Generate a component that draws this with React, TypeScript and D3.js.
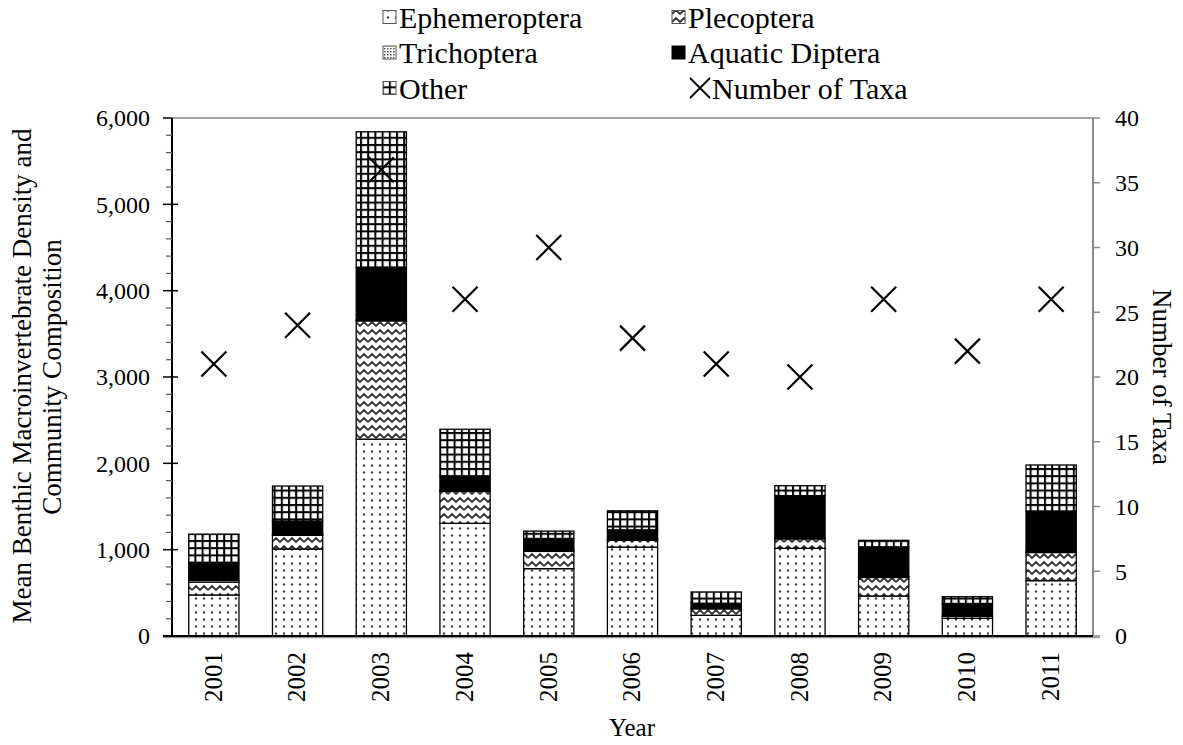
import React from "react";
import * as d3 from "d3";

const years = ["2001","2002","2003","2004","2005","2006","2007","2008","2009","2010","2011"];
const ephemeroptera = [475, 1008, 2280, 1305, 780, 1030, 240, 1016, 463, 205, 641];
const plecoptera = [150, 158, 1370, 370, 200, 80, 75, 110, 215, 22, 326];
const trichoptera = [20, 10, 15, 10, 10, 10, 15, 10, 10, 5, 10];
const aquaticDiptera = [200, 156, 600, 165, 140, 110, 50, 490, 345, 145, 471];
const other = [335, 405, 1575, 545, 85, 220, 130, 115, 75, 78, 533];
const numberOfTaxa = [21, 24, 36, 26, 30, 23, 21, 20, 26, 22, 26];
const leftTicks = [0, 1000, 2000, 3000, 4000, 5000, 6000];
const rightTicks = [0, 5, 10, 15, 20, 25, 30, 35, 40];

const seriesKeys = ["eph", "plec", "trich", "dipt", "other"];
const seriesNames = ["Ephemeroptera", "Plecoptera", "Trichoptera", "Aquatic Diptera", "Other"];
const seriesValues = [ephemeroptera, plecoptera, trichoptera, aquaticDiptera, other];

const W = 1183, H = 745;
const X0 = 172, X1 = 1093, YB = 636, YT = 118;
const FONT = "'Liberation Serif', 'Times New Roman', serif";

export default function App() {
  const x = d3.scaleBand<string>().domain(years).range([X0, X1]).paddingInner(0.4).paddingOuter(0.2);
  const y = d3.scaleLinear().domain([0, 6000]).range([YB, YT]);
  const y2 = d3.scaleLinear().domain([0, 40]).range([YB, YT]);

  const table = years.map((yr, i) => {
    const row: any = { year: yr };
    seriesKeys.forEach((k, j) => (row[k] = seriesValues[j][i]));
    return row;
  });
  const stacked = d3.stack<any>().keys(seriesKeys)(table);
  const minorTicks = d3.range(0, 6001, 200).filter((v) => v % 1000 !== 0);
  const fills: Record<string, string> = {
    eph: "url(#pEph)", plec: "url(#pPlec)", trich: "url(#pTrich)", dipt: "#000", other: "url(#pOther)",
  };

  const legendItems = [
    { k: "eph", name: seriesNames[0], col: 0, row: 0 },
    { k: "plec", name: seriesNames[1], col: 1, row: 0 },
    { k: "trich", name: seriesNames[2], col: 0, row: 1 },
    { k: "dipt", name: seriesNames[3], col: 1, row: 1 },
    { k: "other", name: seriesNames[4], col: 0, row: 2 },
    { k: "taxa", name: "Number of Taxa", col: 1, row: 2 },
  ];
  const legColX = [383, 672];
  const legRowY = [17, 52.5, 88];

  return (
    <svg width={W} height={H} style={{ position: "absolute", left: 0, top: 0, background: "#fff" }} fontFamily={FONT}>
      <defs>
        <pattern id="pEph" width="8" height="7" patternUnits="userSpaceOnUse">
          <rect width="8" height="7" fill="#fff" />
          <circle cx="4" cy="3.5" r="1.2" fill="#444" />
        </pattern>
        <pattern id="pPlec" width="16" height="8" patternUnits="userSpaceOnUse">
          <rect width="16" height="8" fill="#fff" />
          <path d="M0,6 L4,2 L8,6 L12,2 L16,6" fill="none" stroke="#333" strokeWidth="1.8" />
        </pattern>
        <pattern id="pTrich" width="3" height="3" patternUnits="userSpaceOnUse">
          <rect width="3" height="3" fill="#fff" />
          <rect x="0" y="0" width="1.5" height="1.5" fill="#555" />
        </pattern>
        <pattern id="pOther" width="7.2" height="7.2" patternUnits="userSpaceOnUse">
          <rect width="7.2" height="7.2" fill="#fff" />
          <line x1="1" y1="0" x2="1" y2="7.2" stroke="#000" strokeWidth="2" />
          <line x1="0" y1="1" x2="7.2" y2="1" stroke="#000" strokeWidth="2" />
        </pattern>
      </defs>

      {/* frame top and right axis */}
      <line x1={X0} x2={X1} y1={YT} y2={YT} stroke="#888" strokeWidth={1.5} />
      <line x1={X1} x2={X1} y1={YT} y2={YB} stroke="#888" strokeWidth={2} />
      {rightTicks.map((t) => (
        <g key={"rt" + t}>
          <line x1={X1} x2={X1 + 7} y1={y2(t)} y2={y2(t)} stroke="#888" strokeWidth={1.5} />
          <text x={X1 + 22} y={y2(t)} dy="0.35em" fontSize={24} fill="#000">{t}</text>
        </g>
      ))}

      {/* bars */}
      {stacked.map((layer) => (
        <g key={layer.key}>
          {layer.map((d, i) => (
            <rect
              key={i}
              x={x(years[i])}
              width={x.bandwidth()}
              y={y(d[1])}
              height={Math.max(0, y(d[0]) - y(d[1]))}
              fill={fills[layer.key]}
              stroke="#000"
              strokeWidth={1.3}
            />
          ))}
        </g>
      ))}

      {/* taxa markers */}
      {numberOfTaxa.map((v, i) => {
        const cx = (x(years[i]) as number) + x.bandwidth() / 2;
        const cy = y2(v);
        const s = 12.5;
        return (
          <path key={"tx" + i} d={`M${cx - s},${cy - s}L${cx + s},${cy + s}M${cx - s},${cy + s}L${cx + s},${cy - s}`} stroke="#000" strokeWidth={2.2} fill="none" />
        );
      })}

      {/* left axis */}
      <line x1={X0} x2={X0} y1={YT} y2={YB} stroke="#000" strokeWidth={2} />
      {minorTicks.map((t) => (
        <line key={"mt" + t} x1={X0 - 6} x2={X0} y1={y(t)} y2={y(t)} stroke="#555" strokeWidth={1.2} />
      ))}
      {leftTicks.map((t) => (
        <g key={"lt" + t}>
          <line x1={X0 - 9} x2={t === 0 || t === 6000 ? X0 : X0 + 6} y1={y(t)} y2={y(t)} stroke="#000" strokeWidth={1.5} />
          <text x={150} y={y(t)} dy="0.35em" textAnchor="end" fontSize={24}>{d3.format(",")(t)}</text>
        </g>
      ))}

      {/* x axis */}
      <line x1={X0 - 9} x2={X1 + 7} y1={YB + 1.5} y2={YB + 1.5} stroke="#999" strokeWidth={1.5} />
      <line x1={X0 - 9} x2={X1} y1={YB} y2={YB} stroke="#000" strokeWidth={2} />
      {years.map((yr) => {
        const cx = (x(yr) as number) + x.bandwidth() / 2;
        return (
          <text key={"yl" + yr} transform={`translate(${cx - 1},652) rotate(-90)`} textAnchor="end" dy="0.35em" fontSize={25}>{yr}</text>
        );
      })}
      <text x={632} y={736} textAnchor="middle" fontSize={25}>Year</text>

      {/* axis titles */}
      <text transform={`translate(22,${(YT + YB) / 2 - 1}) rotate(-90)`} textAnchor="middle" dy="0.35em" fontSize={27}>Mean Benthic Macroinvertebrate Density and</text>
      <text transform={`translate(52,${(YT + YB) / 2}) rotate(-90)`} textAnchor="middle" dy="0.35em" fontSize={27}>Community Composition</text>
      <text transform={`translate(1162,${(YT + YB) / 2}) rotate(90)`} textAnchor="middle" dy="0.35em" fontSize={27}>Number of Taxa</text>

      {/* legend */}
      {legendItems.map((it) => {
        const lx = legColX[it.col];
        const ly = legRowY[it.row];
        return (
          <g key={"lg" + it.k}>
            {it.k === "taxa" ? (
              <path d={`M${lx + 18},${ly - 10}L${lx + 38},${ly + 10}M${lx + 18},${ly + 10}L${lx + 38},${ly - 10}`} stroke="#000" strokeWidth={1.8} />
            ) : (
              <rect x={lx} y={ly - 6.5} width={13} height={13} fill={fills[it.k]} stroke={it.k === "dipt" ? "#000" : "#555"} strokeWidth={1} />
            )}
            <text x={lx + (it.k === "taxa" ? 40 : 16)} y={ly} dy="0.35em" fontSize={30}>{it.name}</text>
          </g>
        );
      })}
    </svg>
  );
}
